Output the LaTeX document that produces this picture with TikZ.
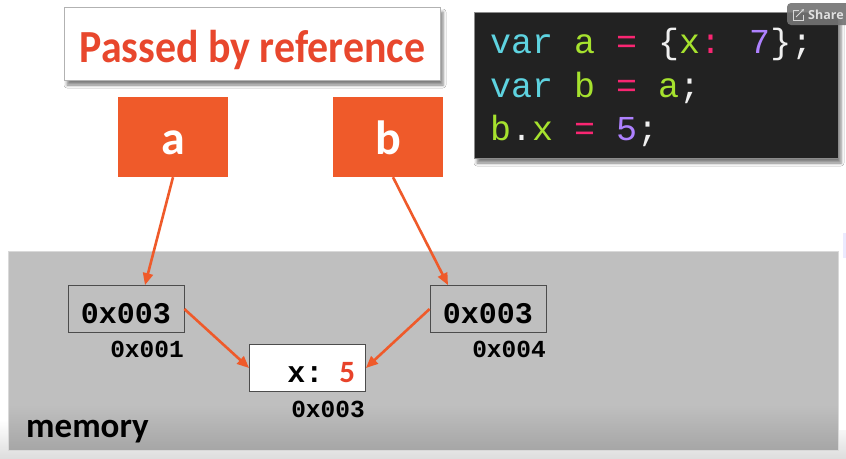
\documentclass[tikz,border=0pt]{standalone}
\usepackage{fontspec}
\usepackage{graphicx}
\setmainfont{Carlito}
\newfontfamily\codefont[WordSpace={1,0,0}]{Liberation Mono}
\newfontfamily\uifont{Open Sans}
\usetikzlibrary{arrows.meta,shadows.blur,calc}

\definecolor{slideorange}{HTML}{EF5A2A}
\definecolor{titlered}{HTML}{E8472D}
\definecolor{memgray}{HTML}{BFBFBF}
\definecolor{memdark}{HTML}{A6A6A6}
\definecolor{codebg}{HTML}{222222}
\definecolor{kwcyan}{HTML}{5ED3E0}
\definecolor{idgreen}{HTML}{A6E22E}
\definecolor{oppink}{HTML}{F92672}
\definecolor{numpurple}{HTML}{AE81FF}
\definecolor{plaintext}{HTML}{F0F0F0}
\definecolor{valred}{HTML}{E8432A}

\tikzset{
  titlebox/.style={draw=black!30, line width=0.8pt, fill=white, minimum width=376pt,
    minimum height=73pt, inner sep=0pt,
    blur shadow={shadow xshift=3pt, shadow yshift=-5pt, shadow blur radius=3pt, shadow opacity=50}},
  varbox/.style={fill=slideorange, minimum width=110pt, minimum height=80pt, inner sep=0pt,
    text=white, font=\fontsize{48}{52}\selectfont\bfseries, text height=34pt, text depth=0pt},
  cell/.style={draw=black!70, line width=0.8pt, minimum width=116pt, minimum height=47pt,
    inner sep=0pt, font=\codefont\bfseries\fontsize{30}{34}\selectfont,
    text height=28pt, text depth=0pt},
  addr/.style={font=\codefont\bfseries\fontsize{24.5}{28}\selectfont, inner sep=0pt, anchor=base east},
  codeline/.style={font=\codefont\fontsize{35}{40}\selectfont, inner sep=0pt, anchor=base west},
  ptr/.style={draw=slideorange, line width=2.6pt, -{Triangle[length=12pt,width=10pt]}},
}

\begin{document}
\begin{tikzpicture}[x=1pt,y=-1pt]
\useasboundingbox (0,0) rectangle (846,458);
\fill[white] (0,0) rectangle (846,458);

% soft floor below the memory panel
\shade[top color=white, bottom color=black!13] (0,420) rectangle (846,458);
\fill[white] (838,0) rectangle (846,430);
\fill[blue!8] (843,233) rectangle (846,258);

% memory panel
\fill[memgray] (8,251) rectangle (838,450);
\shade[top color=memgray, bottom color=memdark] (8,405) rectangle (838,450);
\draw[white!85!black, line width=0.8pt] (8,251) rectangle (838,450);
\node[font=\fontsize{35}{40}\selectfont\bfseries, inner sep=0pt, anchor=base west] (memlabel) at (26,437) {memory};

% title
\node[titlebox] (title) at (252,43.5) {};
\node[font=\fontsize{46}{50}\selectfont\bfseries, text=titlered, inner sep=0pt, anchor=base] (titletext) at (252.5,62) {\scalebox{0.91}[1]{Passed by reference}};

% code panel
\node[fill=codebg, draw=black!45, line width=0.8pt, minimum width=364pt, minimum height=146pt, inner sep=0pt,
  blur shadow={shadow xshift=3pt, shadow yshift=-5pt, shadow blur radius=3pt, shadow opacity=50}] (code) at (656,85) {};
\node[codeline] (line1) at (490,53) {\textcolor{kwcyan}{var} \textcolor{idgreen}{a} \textcolor{oppink}{=} \textcolor{plaintext}{\{}\textcolor{idgreen}{x}\textcolor{oppink}{:} \textcolor{numpurple}{7}\textcolor{plaintext}{\};}};
\node[codeline] (line2) at (490,97) {\textcolor{kwcyan}{var} \textcolor{idgreen}{b} \textcolor{oppink}{=} \textcolor{idgreen}{a}\textcolor{plaintext}{;}};
\node[codeline] (line3) at (490,140) {\textcolor{idgreen}{b}\textcolor{plaintext}{.}\textcolor{idgreen}{x} \textcolor{oppink}{=} \textcolor{numpurple}{5}\textcolor{plaintext}{;}};

% share button in the corner
\fill[black!55, opacity=0.9, rounded corners=4pt] (787,3) rectangle (870,25);
\draw[white!85!black, line width=0.9pt] (799,10) -- (793,10) -- (793,20) -- (803,20) -- (803,15);
\draw[white!85!black, line width=0.9pt, -{Stealth[length=3pt,width=3pt]}] (796,17) -- (804,9);
\node[font=\uifont\bfseries\fontsize{12.5}{14}\selectfont, text=white!88!black, inner sep=0pt, anchor=base west] (share) at (808,19) {Share};

% variables
\node[varbox] (a) at (173,137) {a};
\node[varbox] (b) at (388,137) {b};

% memory cells
\node[cell] (cella) at (126,309) {0x003};
\node[cell] (cellb) at (488,309) {0x003};
\node[cell, fill=white, text width=95pt, align=right] (obj) at (307.5,368) {x:\hspace*{16pt}\textcolor{valred}{\fontsize{31}{34}\selectfont\normalfont\bfseries 5}};

\node[addr] (addra) at (184,357) {0x001};
\node[addr] (addrb) at (546,357) {0x004};
\node[addr] (addrobj) at (365,417) {0x003};

% references
\draw[ptr] (a.south) -- ([xshift=19pt]cella.north);
\draw[ptr] ([xshift=5pt]b.south) -- ([xshift=-40pt]cellb.north);
\draw[ptr] (cella.east) -- (obj.west);
\draw[ptr] (cellb.west) -- (obj.east);
\end{tikzpicture}
\end{document}
